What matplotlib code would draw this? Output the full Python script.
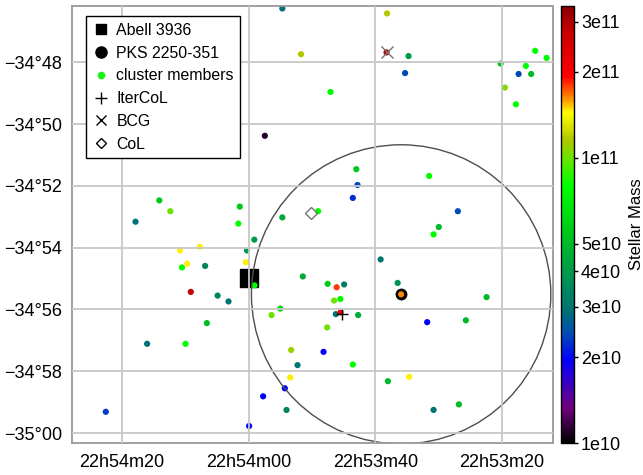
import numpy as np
import matplotlib
matplotlib.use('Agg')
import matplotlib.pyplot as plt
from matplotlib.colors import LinearSegmentedColormap, LogNorm
from matplotlib.patches import Ellipse
from matplotlib.lines import Line2D
import matplotlib.cm as cm

plt.rcParams['font.family'] = ['Liberation Sans', 'DejaVu Sans']

# RA: seconds after 22h53m00s ; Dec: arcmin above -35deg00'
member_ra = [54.67, 38.15, 51.72, 38.23, 34.76, 35.31, 47.07, 20.23, 19.56, 17.40,
             16.25, 15.41, 14.78, 12.98, 17.83, 57.43, 43.00, 42.81, 43.55, 31.51,
             26.98, 29.98, 30.81, 49.02, 54.67, 74.08, 72.34, 77.83, 61.38, 61.61,
             59.09, 60.24, 70.80, 67.69, 69.69, 70.50, 66.85, 60.43, 59.06, 69.11,
             64.88, 63.16, 51.44, 47.52, 46.10, 44.92, 46.50, 45.52, 54.99, 56.37,
             46.23, 45.49, 42.71, 47.60, 53.28, 48.17, 52.27, 43.55, 53.44, 54.28,
             57.70, 54.01, 59.91, 38.02, 82.52, 76.00, 69.94, 66.58, 39.16, 36.48,
             35.93, 22.45, 31.82, 25.72, 34.66, 30.81, 26.82]
member_dec = [13.74, 13.58, 12.26, 12.32, 12.20, 11.65, 11.04, 11.96, 11.18, 11.62,
              11.88, 11.62, 12.37, 12.14, 10.64, 9.62, 8.54, 8.03, 7.61, 8.32,
              7.18, 6.67, 6.43, 7.18, 6.98, 7.53, 7.18, 6.84, 7.33, 6.78,
              6.26, 5.91, 5.91, 6.03, 5.48, 5.36, 5.41, 5.53, 4.78, 4.57,
              4.45, 4.26, 5.07, 4.83, 4.72, 4.81, 4.29, 4.34, 4.03, 3.82,
              3.85, 3.91, 3.82, 3.42, 2.69, 2.63, 2.20, 2.22, 1.80, 1.45,
              1.19, 0.75, 0.23, 1.68, 0.69, 2.89, 2.89, 3.56, 5.62, 4.86,
              4.49, 4.40, 3.59, 3.65, 1.82, 0.75, 0.93]
member_mass = [2.9e10, 1.15e11, 1.15e11, 2.9e11, 4.0e10, 2.4e10, 8e10, 5.5e10, 1.05e11, 2.4e10,
               8e10, 5e10, 8e10, 8e10, 8e10, 1.1e10, 5.5e10, 2.4e10, 2.2e10, 8e10,
               2.4e10, 5e10, 8e10, 8e10, 4.5e10, 5.5e10, 1e11, 2.9e10, 5.5e10, 8e10,
               4e10, 4e10, 1.45e11, 1.45e11, 1.45e11, 8e10, 3.4e10, 1.45e11, 8e10, 2.8e11,
               3.4e10, 3e10, 4.5e10, 5.5e10, 1.8e11, 3.2e10, 1e11, 8e10, 6.2e10, 1e11,
               2.9e10, 2e11, 4.5e10, 1e11, 1.1e11, 1.95e10, 3e10, 8e10, 1.45e11, 1.95e10,
               1.95e10, 3.4e10, 2e10, 5e10, 2.3e10, 2.9e10, 8e10, 5e10, 3e10, 3.8e10,
               1.62e11, 5e10, 1.95e10, 5e10, 1.45e11, 2.9e10, 5e10]

abell_ra, abell_dec = 60.0, 5.03
pks_ra, pks_dec = 35.93, 4.49
bcg_ra, bcg_dec = 38.23, 12.32
itercol_ra, itercol_dec = 45.28, 3.87
col_ra, col_dec = 50.09, 7.13
circle_radius_arcmin = 4.84
dec0_deg = -34.925

ra_ticks = [80, 60, 40, 20]
ra_labels = ['22h54m20', '22h54m00', '22h53m40', '22h53m20']
dec_ticks = [12, 10, 8, 6, 4, 2, 0]
dec_labels = ['\u221234°48', '\u221234°50', '\u221234°52', '\u221234°54',
              '\u221234°56', '\u221234°58', '\u221235°00']
cbar_ticks = [1e10, 2e10, 3e10, 4e10, 5e10, 1e11, 2e11, 3e11]
cbar_labels = ['1e10', '2e10', '3e10', '4e10', '5e10', '1e11', '2e11', '3e11']
mass_min, mass_max = 1e10, 3.4e11

stops = [
    (0.0, (0, 0, 0)),
    (0.08, (0.45, 0, 0.5)),
    (0.19, (0, 0, 1)),
    (0.25, (0, 0.3, 0.7)),
    (0.305, (0, 0.45, 0.45)),
    (0.39, (0, 0.6, 0.3)),
    (0.48, (0, 0.78, 0.1)),
    (0.59, (0, 1, 0)),
    (0.65, (0.4, 0.9, 0)),
    (0.695, (0.7, 0.78, 0)),
    (0.756, (1, 1, 0)),
    (0.79, (1, 0.55, 0)),
    (0.84, (1, 0, 0)),
    (0.94, (0.8, 0, 0)),
    (1.0, (0.55, 0, 0)),
]
cmap = LinearSegmentedColormap.from_list('mass', stops)
norm = LogNorm(vmin=mass_min, vmax=mass_max)

fig = plt.figure(figsize=(6.43, 4.75), dpi=100)
ax = fig.add_axes([72 / 643, 32.3 / 475, 480.5 / 643, 437 / 475])

ax.plot([abell_ra], [abell_dec], marker='s', color='black', markersize=12.6,
        linestyle='none', zorder=1)
ax.plot([pks_ra], [pks_dec], marker='o', color='black', markersize=7.5,
        linestyle='none', zorder=1)
ax.scatter(member_ra, member_dec, c=member_mass, cmap=cmap, norm=norm,
           s=20, edgecolors='none', zorder=1.5)
ax.plot([bcg_ra], [bcg_dec], marker='x', color='0.45', markersize=8.5,
        markeredgewidth=1.0, linestyle='none', zorder=2)
ax.plot([itercol_ra], [itercol_dec], marker='+', color='black', markersize=9,
        markeredgewidth=1.0, linestyle='none', zorder=2)
ax.plot([col_ra], [col_dec], marker='D', markerfacecolor='none',
        markeredgecolor='0.45', markersize=6, markeredgewidth=1.0,
        linestyle='none', zorder=2)

sec_to_arcmin = 0.25 * np.cos(np.radians(dec0_deg))
circ = Ellipse((pks_ra, pks_dec), width=2 * circle_radius_arcmin / sec_to_arcmin,
               height=2 * circle_radius_arcmin, facecolor='none',
               edgecolor='0.3', linewidth=1.0, zorder=2)
ax.add_patch(circ)

ax.set_xlim(87.85, 12.05)
ax.set_ylim(-0.31, 13.83)
ax.set_xticks(ra_ticks)
ax.set_xticklabels(ra_labels)
ax.set_yticks(dec_ticks)
ax.set_yticklabels(dec_labels)
ax.tick_params(axis='both', length=0, labelsize=13)
ax.tick_params(axis='x', pad=8)
ax.tick_params(axis='y', pad=7)
ax.set_axisbelow(False)
ax.grid(True, color='0.78', linewidth=1.3)
for sp in ax.spines.values():
    sp.set_color('0.6')
    sp.set_linewidth(1.3)

handles = [
    Line2D([], [], marker='s', color='black', linestyle='none', markersize=7),
    Line2D([], [], marker='o', color='black', linestyle='none', markersize=8),
    Line2D([], [], marker='o', color=(0.1, 0.95, 0.1), linestyle='none', markersize=4.5),
    Line2D([], [], marker='+', color='black', linestyle='none', markersize=8, markeredgewidth=1),
    Line2D([], [], marker='x', color='black', linestyle='none', markersize=7, markeredgewidth=1),
    Line2D([], [], marker='D', markerfacecolor='none', markeredgecolor='black',
           linestyle='none', markersize=5, markeredgewidth=1),
]
labels = ['Abell 3936', 'PKS 2250-351', 'cluster members', 'IterCoL', 'BCG', 'CoL']
leg = ax.legend(handles, labels, loc='upper left', bbox_to_anchor=(0.029, 0.976),
                borderaxespad=0, fontsize=11.4, frameon=True, fancybox=False,
                edgecolor='black', framealpha=1, handlelength=1.0,
                handletextpad=0.5, labelspacing=0.49, borderpad=0.42)
leg.get_frame().set_linewidth(1.0)
leg.set_zorder(5)

cax = fig.add_axes([560.5 / 643, 32 / 475, 13.5 / 643, 437 / 475])
sm = cm.ScalarMappable(norm=norm, cmap=cmap)
cb = fig.colorbar(sm, cax=cax)
cb.set_ticks(cbar_ticks)
cb.set_ticklabels(cbar_labels)
cb.minorticks_off()
cax.tick_params(labelsize=13, length=3, width=1, pad=2)
cb.set_label('Stellar Mass', fontsize=12, labelpad=6)
cb.outline.set_linewidth(1.0)

fig.savefig('out.png', dpi=100)
